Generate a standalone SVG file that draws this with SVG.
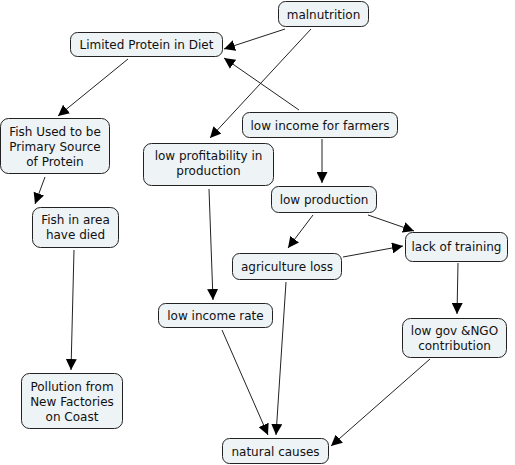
<svg xmlns="http://www.w3.org/2000/svg" width="515" height="465" viewBox="0 0 515 465">
<style>
.n rect{fill:#eef3f6;stroke:#222;stroke-width:1}
.n text{font-family:"DejaVu Sans",Verdana,sans-serif;font-size:12px;fill:#111;text-anchor:middle}
#edges line{stroke:#222;stroke-width:1;marker-end:url(#ah)}
</style>
<defs>
<marker id="ah" viewBox="0 0 10 10" refX="10" refY="5" markerWidth="11" markerHeight="11" markerUnits="userSpaceOnUse" orient="auto">
<path d="M0,0 L10,5 L0,10 z" fill="#000"/>
</marker>
</defs>
<rect width="515" height="465" fill="#fff"/>
<g id="edges">
<line x1="285" y1="29" x2="224" y2="49"/>
<line x1="311" y1="29" x2="210" y2="138"/>
<line x1="299" y1="110" x2="224" y2="58"/>
<line x1="128" y1="59" x2="58" y2="116"/>
<line x1="45" y1="177" x2="35" y2="204"/>
<line x1="74" y1="250" x2="71" y2="370"/>
<line x1="209" y1="189" x2="213" y2="300"/>
<line x1="322" y1="139" x2="322" y2="183"/>
<line x1="313" y1="215" x2="288" y2="248"/>
<line x1="368" y1="215" x2="414" y2="231"/>
<line x1="343" y1="257" x2="403" y2="246"/>
<line x1="458" y1="263" x2="457" y2="314"/>
<line x1="286" y1="282" x2="276" y2="435"/>
<line x1="222" y1="330" x2="268" y2="435"/>
<line x1="430" y1="359" x2="331" y2="446"/>
</g>
<g id="malnutrition" class="n"><rect x="278.5" y="1.5" width="90" height="25" rx="7"/><text x="323.5" y="18.5">malnutrition</text></g>
<g id="limited" class="n"><rect x="70.5" y="32.5" width="152" height="24" rx="7"/><text x="146.5" y="49">Limited Protein in Diet</text></g>
<g id="farmers" class="n"><rect x="242.5" y="112.5" width="155" height="25" rx="7"/><text x="320" y="129.5">low income for farmers</text></g>
<g id="fishused" class="n"><rect x="0.5" y="118.5" width="109" height="55" rx="8"/><text x="55" y="136">Fish Used to be</text><text x="55" y="151">Primary Source</text><text x="55" y="166">of Protein</text></g>
<g id="profit" class="n"><rect x="143.5" y="143.5" width="130" height="42" rx="8"/><text x="208.5" y="160">low profitability in</text><text x="208.5" y="175">production</text></g>
<g id="production" class="n"><rect x="271.5" y="186.5" width="105" height="26" rx="7"/><text x="324" y="203.5">low production</text></g>
<g id="fisharea" class="n"><rect x="32.5" y="207.5" width="86" height="40" rx="8"/><text x="75.5" y="224">Fish in area</text><text x="75.5" y="239">have died</text></g>
<g id="training" class="n"><rect x="405.5" y="232.5" width="102" height="29" rx="7"/><text x="456.5" y="251">lack of training</text></g>
<g id="agri" class="n"><rect x="232.5" y="253.5" width="109" height="26" rx="7"/><text x="287" y="270.5">agriculture loss</text></g>
<g id="incomerate" class="n"><rect x="158.5" y="303.5" width="114" height="24" rx="7"/><text x="215.5" y="320">low income rate</text></g>
<g id="gov" class="n"><rect x="402.5" y="318.5" width="104" height="39" rx="8"/><text x="454.5" y="334.5">low gov &amp;NGO</text><text x="454.5" y="349.5">contribution</text></g>
<g id="pollution" class="n"><rect x="21.5" y="373.5" width="101" height="55" rx="8"/><text x="72" y="391">Pollution from</text><text x="72" y="406">New Factories</text><text x="72" y="421">on Coast</text></g>
<g id="natural" class="n"><rect x="222.5" y="438.5" width="106" height="25" rx="7"/><text x="275.5" y="455.5">natural causes</text></g>
</svg>
